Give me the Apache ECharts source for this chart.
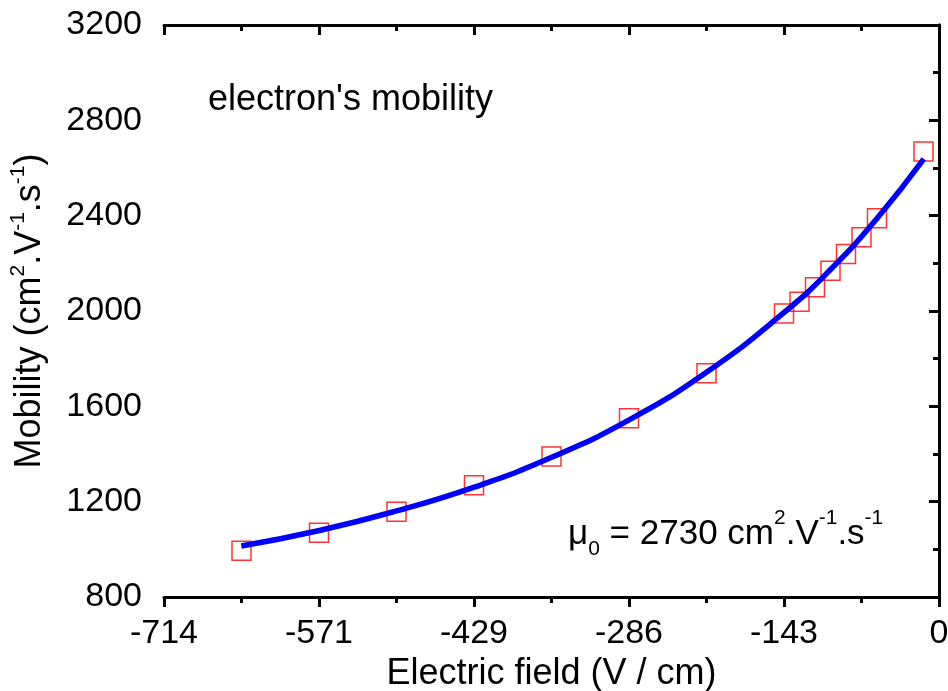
<!DOCTYPE html>
<html>
<head>
<meta charset="utf-8">
<script src="https://cdn.jsdelivr.net/npm/echarts@6/dist/echarts.min.js"></script>
<style>
  html, body { margin: 0; padding: 0; background: #fff; }
  #chart { width: 948px; height: 691px; }
</style>
</head>
<body>
<div id="chart"></div>
<script>
// measured points (V/cm, cm2/Vs)
const fieldPts = [-642.86, -571.43, -500, -428.57, -357.14, -285.71, -214.29,
  -142.86, -128.57, -114.29, -100, -85.71, -71.43, -57.14, -14.29];
const mobilityPts = [994, 1070, 1158, 1269, 1389, 1550, 1739,
  1990, 2039, 2100, 2169, 2239, 2309, 2389, 2669];

// fitted curve
const fitField = [-643, -571, -500, -429, -357, -286, -214, -143, -100, -57, -14];
const fitMobility = [1014, 1079, 1161, 1260, 1386, 1542, 1744, 1993, 2174, 2389, 2638];

const xStep = 1000 / 7;
const font = "'Liberation Sans', Arial, sans-serif";

const chart = echarts.init(document.getElementById("chart"));

const axisLine = { show: true, lineStyle: { color: "#000", width: 3 } };
const tickStyle = { width: 3, color: "#000" };

chart.setOption({
  animation: false,
  grid: { left: 164, right: 9, top: 25, bottom: 94, outerBoundsMode: "none" },
  xAxis: [
    {
      type: "value",
      position: "bottom",
      min: -5 * xStep,
      max: 0,
      interval: xStep,
      axisLine: axisLine,
      axisTick: { show: true, length: 10, lineStyle: tickStyle },
      minorTick: { show: true, splitNumber: 2, length: 6, lineStyle: tickStyle },
      splitLine: { show: false },
      axisLabel: {
        margin: 20,
        color: "#000",
        fontSize: 34,
        fontFamily: font,
        formatter: v => String(Math.round(v))
      },
      name: "Electric field (V / cm)",
      nameLocation: "middle",
      nameGap: 56,
      nameTextStyle: { color: "#000", fontSize: 36, fontFamily: font }
    },
    {
      type: "value",
      position: "top",
      min: -5 * xStep,
      max: 0,
      interval: xStep,
      axisLine: axisLine,
      axisTick: { show: true, inside: true, length: 10, lineStyle: tickStyle },
      minorTick: { show: true, splitNumber: 2, length: 6, lineStyle: tickStyle },
      splitLine: { show: false },
      axisLabel: { show: false }
    }
  ],
  yAxis: [
    {
      type: "value",
      position: "left",
      min: 800,
      max: 3200,
      interval: 400,
      axisLine: axisLine,
      axisTick: { show: true, length: 10, lineStyle: tickStyle },
      minorTick: { show: true, splitNumber: 2, length: 6, lineStyle: tickStyle },
      splitLine: { show: false },
      axisLabel: {
        margin: 22,
        color: "#000",
        fontSize: 34,
        fontFamily: font,
        formatter: v => String(v)
      },
      name: "{n|Mobility (cm}{s|2}{n|.V}{s|-1}{n|.s}{s|-1}{n|)}",
      nameLocation: "middle",
      nameGap: 112,
      nameTextStyle: {
        color: "#000",
        fontFamily: font,
        rich: {
          n: { fontSize: 36, lineHeight: 44, fontFamily: font, color: "#000" },
          s: { fontSize: 21, verticalAlign: "top", lineHeight: 44, fontFamily: font, color: "#000" }
        }
      }
    },
    {
      type: "value",
      position: "right",
      min: 800,
      max: 3200,
      interval: 400,
      axisLine: axisLine,
      axisTick: { show: true, inside: true, length: 10, lineStyle: tickStyle },
      minorTick: { show: true, splitNumber: 2, length: 6, lineStyle: tickStyle },
      splitLine: { show: false },
      axisLabel: { show: false }
    }
  ],
  graphic: [
    {
      type: "text",
      left: 208,
      top: 82,
      style: { text: "electron's mobility", fill: "#000", fontSize: 36, fontFamily: font }
    },
    {
      type: "text",
      left: 568,
      top: 508,
      style: {
        text: "{n|μ}{b|0}{n| = 2730 cm}{s|2}{n|.V}{s|-1}{n|.s}{s|-1}",
        fill: "#000",
        fontFamily: font,
        rich: {
          n: { fontSize: 35, lineHeight: 52, fontFamily: font, fill: "#000", verticalAlign: "middle" },
          s: { fontSize: 21, lineHeight: 52, fontFamily: font, fill: "#000", verticalAlign: "top" },
          b: { fontSize: 21, lineHeight: 52, fontFamily: font, fill: "#000", verticalAlign: "bottom" }
        }
      }
    }
  ],
  series: [
    {
      type: "scatter",
      data: fieldPts.map((x, i) => [x, mobilityPts[i]]),
      symbol: "rect",
      symbolSize: 19,
      itemStyle: { color: "rgba(0,0,0,0)", borderColor: "#ff0000", borderWidth: 1.5 },
      z: 2
    },
    {
      type: "line",
      data: fitField.map((x, i) => [x, fitMobility[i]]),
      smooth: true,
      showSymbol: false,
      lineStyle: { color: "#0000ff", width: 5.5 },
      z: 3
    }
  ]
});
</script>
</body>
</html>
